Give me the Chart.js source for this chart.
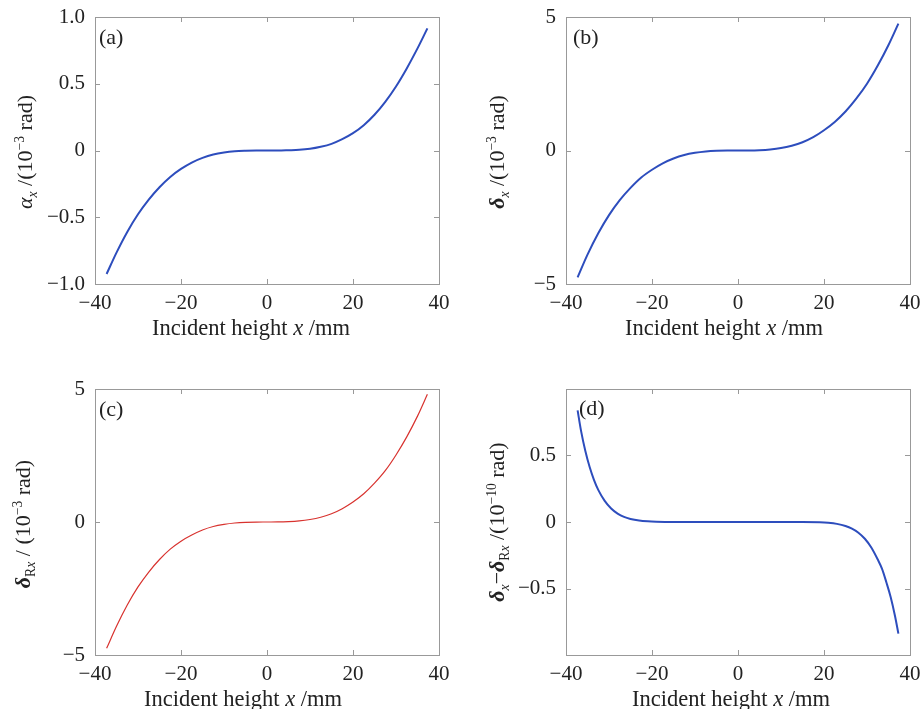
<!DOCTYPE html>
<html>
<head>
<meta charset="utf-8">
<script src="https://cdn.jsdelivr.net/npm/chart.js@4.4.0/dist/chart.umd.min.js"></script>
<style>
body { margin: 0; background: #fff; }
#page { position: relative; width: 922px; height: 709px; overflow: hidden; font-family: "Liberation Serif", serif; color: #222; }
.panel { position: absolute; }
.txt { position: absolute; font-size: 22.5px; white-space: nowrap; transform: translate(-50%, -50%); }
.rot { font-size: 22px; transform: translate(-50%, -50%) rotate(-90deg); }
.tag { position: absolute; font-size: 22px; transform: translateY(-50%); }
sub, sup { font-size: 0.62em; line-height: 0; }
</style>
</head>
<body>
<div id="page">
  <div class="panel" style="left:0;top:0"><canvas id="chartA" width="460" height="345"></canvas></div>
  <div class="panel" style="left:460px;top:0"><canvas id="chartB" width="462" height="345"></canvas></div>
  <div class="panel" style="left:0;top:370px"><canvas id="chartC" width="460" height="339"></canvas></div>
  <div class="panel" style="left:460px;top:370px"><canvas id="chartD" width="462" height="339"></canvas></div>

  <div class="tag" style="left:99px;top:37px">(a)</div>
  <div class="tag" style="left:573px;top:37px">(b)</div>
  <div class="tag" style="left:99px;top:409px">(c)</div>
  <div class="tag" style="left:579px;top:408px">(d)</div>

  <div class="txt rot" style="left:25px;top:152px"><i>α</i><sub><i>x</i></sub> /(10<sup>−3</sup> rad)</div>
  <div class="txt rot" style="left:497px;top:152px"><b><i>δ</i></b><sub><i>x</i></sub> /(10<sup>−3</sup> rad)</div>
  <div class="txt rot" style="left:23px;top:524px"><b><i>δ</i></b><sub>R<i>x</i></sub> / (10<sup>−3</sup> rad)</div>
  <div class="txt rot" style="left:497px;top:522px"><b><i>δ</i></b><sub><i>x</i></sub>−<b><i>δ</i></b><sub>R<i>x</i></sub> /(10<sup>−10</sup> rad)</div>

  <div class="txt" style="left:251px;top:328px">Incident height <i>x</i> /mm</div>
  <div class="txt" style="left:724px;top:328px">Incident height <i>x</i> /mm</div>
  <div class="txt" style="left:243px;top:699px">Incident height <i>x</i> /mm</div>
  <div class="txt" style="left:731px;top:699px">Incident height <i>x</i> /mm</div>
</div>
<script>
// incident height x (mm) for panels a, b, c
const heights = [-37.3, -35, -32.5, -30, -27.5, -25, -22.5, -20, -17.5, -15, -12.5, -10, -7.5, -5, -2.5,
                 0, 2.5, 5, 7.5, 10, 12.5, 15, 17.5, 20, 22.5, 25, 27.5, 30, 32.5, 35, 37.3];
// (a) alpha_x, 10^-3 rad
const alphaX = [-0.925, -0.765, -0.61, -0.478, -0.368, -0.275, -0.198, -0.138, -0.09, -0.055, -0.03, -0.015, -0.006, -0.002, 0,
                0, 0, 0.002, 0.005, 0.013, 0.028, 0.05, 0.085, 0.13, 0.19, 0.268, 0.365, 0.48, 0.615, 0.765, 0.915];
// (b) delta_x, 10^-3 rad
const deltaX = [-4.75, -3.9, -3.1, -2.42, -1.86, -1.4, -1.01, -0.72, -0.48, -0.3, -0.17, -0.088, -0.037, -0.011, -0.001,
                0, 0.001, 0.011, 0.038, 0.09, 0.18, 0.31, 0.5, 0.76, 1.07, 1.46, 1.94, 2.5, 3.18, 3.95, 4.75];
// (c) delta_Rx, 10^-3 rad
const deltaRx = [-4.75, -3.92, -3.12, -2.44, -1.88, -1.41, -1.02, -0.72, -0.49, -0.3, -0.17, -0.09, -0.038, -0.011, -0.001,
                 0, 0.001, 0.012, 0.039, 0.093, 0.18, 0.31, 0.5, 0.75, 1.06, 1.46, 1.93, 2.52, 3.2, 3.98, 4.8];
// (d) delta_x - delta_Rx, 10^-10 rad
const heightsD = [-37.3, -36.5, -35.5, -34.5, -33.5, -32.5, -31, -29.5, -28, -26.5, -25, -23, -21, -19, -15, -10, -5,
                  0, 5, 10, 15, 19, 21, 23, 25, 26.5, 28, 29.5, 31, 32.5, 33.5, 34.5, 35.5, 36.5, 37.3];
const deltaDiff = [0.833, 0.68, 0.53, 0.41, 0.315, 0.24, 0.158, 0.101, 0.063, 0.038, 0.023, 0.011, 0.005, 0.002, 0, 0, 0,
                   0, 0, 0, 0, -0.002, -0.006, -0.014, -0.03, -0.05, -0.08, -0.125, -0.19, -0.28, -0.35, -0.45, -0.56, -0.7, -0.833];

const xTicks = [-40, -20, 0, 20, 40];
const xTickLabels = ['−40', '−20', '0', '20', '40'];
const yTicksA = [-1, -0.5, 0, 0.5, 1];
const yTickLabelsA = ['−1.0', '−0.5', '0', '0.5', '1.0'];
const yTicksB = [-5, 0, 5];
const yTickLabelsB = ['−5', '0', '5'];
const yTicksD = [-0.5, 0, 0.5];
const yTickLabelsD = ['−0.5', '0', '0.5'];

const tickFont = { family: '"Liberation Serif", serif', size: 21 };

// box around the plot area with inward tick marks on all four sides
const framePlugin = {
    id: 'frame',
    afterDraw(chart) {
        const { ctx, chartArea: a, scales } = chart;
        ctx.save();
        ctx.strokeStyle = '#999';
        ctx.lineWidth = 1;
        ctx.strokeRect(Math.round(a.left) + 0.5, Math.round(a.top) + 0.5, Math.round(a.width), Math.round(a.height));
        ctx.beginPath();
        scales.x.ticks.forEach(t => {
            const px = Math.round(scales.x.getPixelForValue(t.value)) + 0.5;
            ctx.moveTo(px, a.bottom); ctx.lineTo(px, a.bottom - 5);
            ctx.moveTo(px, a.top); ctx.lineTo(px, a.top + 5);
        });
        scales.y.ticks.forEach(t => {
            const py = Math.round(scales.y.getPixelForValue(t.value)) + 0.5;
            ctx.moveTo(a.left, py); ctx.lineTo(a.left + 5, py);
            ctx.moveTo(a.right, py); ctx.lineTo(a.right - 5, py);
        });
        ctx.stroke();
        ctx.restore();
    }
};

function makePanel(id, xs, ys, o) {
    const ctx = document.getElementById(id).getContext('2d');
    new Chart(ctx, {
        type: 'line',
        data: {
            datasets: [{
                data: xs.map((x, i) => ({ x: x, y: ys[i] })),
                borderColor: o.color,
                borderWidth: o.lineWidth,
                pointRadius: 0,
                cubicInterpolationMode: 'monotone',
                fill: false
            }]
        },
        options: {
            responsive: false,
            animation: false,
            layout: { padding: o.padding },
            plugins: { legend: { display: false }, tooltip: { enabled: false } },
            scales: {
                x: {
                    type: 'linear',
                    min: -40,
                    max: 40,
                    afterBuildTicks: s => { s.ticks = xTicks.map(v => ({ value: v })); },
                    // fixed box so the plot area lands where the reference has it
                    afterFit: s => { s.height = o.xHeight; s.paddingLeft = 0; s.paddingRight = 0; },
                    grid: { display: false, drawTicks: false },
                    border: { display: false },
                    ticks: {
                        autoSkip: false,
                        maxRotation: 0,
                        padding: 7,
                        color: '#222',
                        font: tickFont,
                        callback: v => xTickLabels[xTicks.indexOf(v)]
                    }
                },
                y: {
                    min: o.yMin,
                    max: o.yMax,
                    afterBuildTicks: s => { s.ticks = o.yTicks.map(v => ({ value: v })); },
                    afterFit: s => { s.width = o.yWidth; s.paddingTop = 0; s.paddingBottom = 0; },
                    grid: { display: false, drawTicks: false },
                    border: { display: false },
                    ticks: {
                        autoSkip: false,
                        padding: 10,
                        color: '#222',
                        font: tickFont,
                        callback: v => o.yLabels[o.yTicks.indexOf(v)]
                    }
                }
            }
        },
        plugins: [framePlugin]
    });
}

makePanel('chartA', heights, alphaX, {
    color: '#2d4dbd', lineWidth: 2, yMin: -1, yMax: 1, yTicks: yTicksA, yLabels: yTickLabelsA,
    padding: { left: 0, top: 17, right: 21, bottom: 0 }, yWidth: 95, xHeight: 61
});
makePanel('chartB', heights, deltaX, {
    color: '#2d4dbd', lineWidth: 2, yMin: -5, yMax: 5, yTicks: yTicksB, yLabels: yTickLabelsB,
    padding: { left: 0, top: 17, right: 12, bottom: 0 }, yWidth: 106, xHeight: 61
});
makePanel('chartC', heights, deltaRx, {
    color: '#d8322e', lineWidth: 1.2, yMin: -5, yMax: 5, yTicks: yTicksB, yLabels: yTickLabelsB,
    padding: { left: 0, top: 19, right: 21, bottom: 0 }, yWidth: 95, xHeight: 54
});
makePanel('chartD', heightsD, deltaDiff, {
    color: '#2d4dbd', lineWidth: 2, yMin: -0.993, yMax: 0.993, yTicks: yTicksD, yLabels: yTickLabelsD,
    padding: { left: 0, top: 19, right: 12, bottom: 0 }, yWidth: 106, xHeight: 54
});
</script>
</body>
</html>
